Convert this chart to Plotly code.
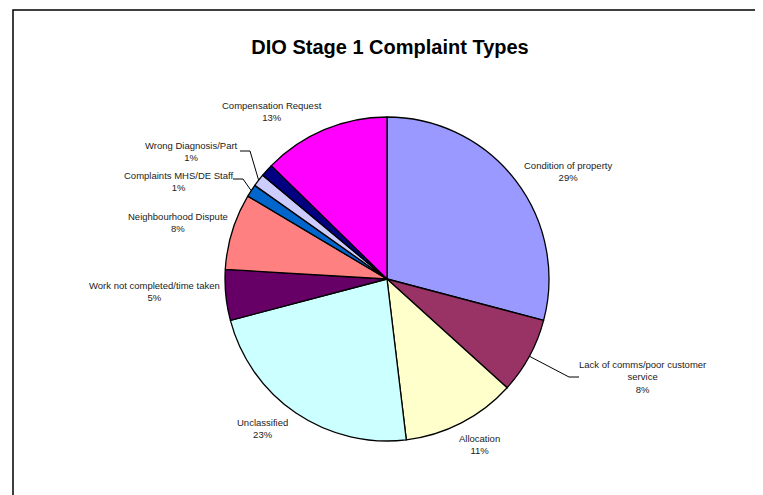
import math
import plotly.graph_objects as go

W, H = 763, 495
OFF = 8  # page body margin in the viewer

# ---- data ----
categories = ["Condition of property", "Lack of comms/poor customer service", "Allocation",
              "Unclassified", "Work not completed/time taken", "Neighbourhood Dispute",
              "Complaints MHS/DE Staff", "Wrong Diagnosis/Part", "Other", "Compensation Request"]
counts = [23, 6, 9, 18, 4, 6, 1, 1, 1, 10]
label_text = ["Condition of property", "Lack of comms/poor customer<br>service", "Allocation",
              "Unclassified", "Work not completed/time taken", "Neighbourhood Dispute",
              "Complaints MHS/DE Staff", "Wrong Diagnosis/Part", None, "Compensation Request"]
colors = ["#9999FF", "#993366", "#FFFFCC", "#CCFFFF", "#660066", "#FF8080",
          "#0066CC", "#CCCCFF", "#000080", "#FF00FF"]

# ---- layout helpers (pixel positions of label centres / leader elbows) ----
label_pos = {
    0: (568, 171), 1: (642, 377), 2: (479, 444), 3: (263, 428), 4: (154, 291),
    5: (178, 222), 6: (178, 181), 7: (191, 151), 9: (272, 111),
}
leaders = {  # label end point, elbow
    1: ((579, 377), (569, 377)),
    6: ((233, 179), (243, 179)),
    7: ((240, 151), (250, 151)),
}

cx, cy, R = 387, 279, 162


def px(x):
    return (x - OFF) / W


def py(y):
    return 1 - (y - OFF) / H


total = sum(counts)
fig = go.Figure(go.Pie(
    values=counts, labels=categories, sort=False, direction="clockwise", rotation=0,
    marker=dict(colors=colors, line=dict(color="black", width=1.3)),
    textinfo="none", hoverinfo="label+percent", showlegend=False,
    domain=dict(x=[px(cx - R), px(cx + R)], y=[py(cy + R), py(cy - R)]),
))

annotations = []
shapes = []
cum = 0
for i, (c, t) in enumerate(zip(counts, label_text)):
    mid = (cum + c / 2) / total * 2 * math.pi
    cum += c
    if t is None:
        continue
    pct = round(c / total * 100)
    lx, ly = label_pos[i]
    annotations.append(dict(
        x=px(lx), y=py(ly), xref="paper", yref="paper", showarrow=False,
        text=f"{t}<br>{pct}%", align="center", xanchor="center", yanchor="middle",
        font=dict(family="Liberation Sans, Arial", size=9.5, color="#222222"),
    ))
    if i in leaders:
        (ax, ay), (bx, by) = leaders[i]
        ex, ey = cx + R * math.sin(mid), cy - R * math.cos(mid)
        path = f"M {px(ax)} {py(ay)} L {px(bx)} {py(by)} L {px(ex)} {py(ey)}"
        shapes.append(dict(type="path", xref="paper", yref="paper", path=path,
                           line=dict(color="black", width=1)))

shapes.append(dict(type="rect", xref="paper", yref="paper",
                   x0=px(13), x1=1.2, y0=-0.2, y1=py(10),
                   line=dict(color="black", width=1.5)))

fig.update_layout(
    width=W, height=H, margin=dict(l=0, r=0, t=0, b=0),
    paper_bgcolor="white", plot_bgcolor="white",
    title=dict(text="<b>DIO Stage 1 Complaint Types</b>", x=px(390), y=py(47),
               xanchor="center", yanchor="middle",
               font=dict(family="Liberation Sans, Arial", size=20, color="black")),
    annotations=annotations, shapes=shapes,
)

fig.write_html("out.html")
